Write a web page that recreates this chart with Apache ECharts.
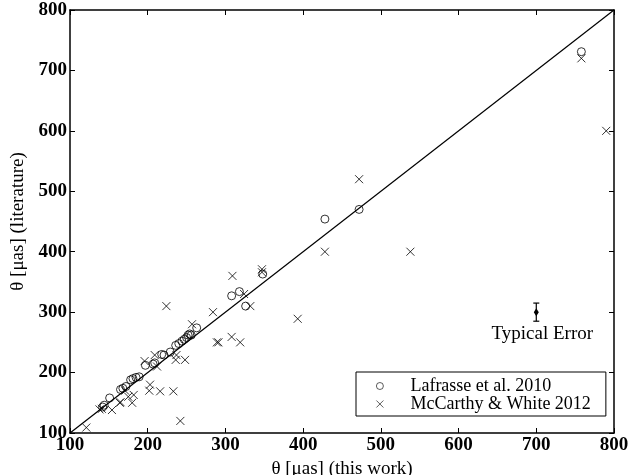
<!DOCTYPE html>
<html>
<head>
<meta charset="utf-8">
<script src="https://cdn.jsdelivr.net/npm/echarts@6/dist/echarts.min.js"></script>
<style>
  html, body { margin: 0; padding: 0; background: #fff; }
  #chart { width: 631px; height: 475px; }
</style>
</head>
<body>
<div id="chart"></div>
<script>
// Lafrasse et al. 2010 (x: this work, y: literature)
const lafrasseX = [142, 144, 151, 165, 168, 172, 178, 181, 185, 189, 197, 207, 209, 218, 221, 229, 236, 240, 244, 247, 250, 252, 254, 256, 263, 308, 318, 326, 348, 428, 472, 758]
const lafrasseY = [143, 146, 158, 172, 174, 177, 188, 190, 192, 193, 212, 214, 216, 230, 229, 234, 245, 248, 252, 255, 258, 262, 264, 262, 274, 327, 334, 310, 363, 454, 470, 731]

// McCarthy & White 2012
const mccarthyX = [121, 138, 141, 154, 164, 165, 171, 175, 180, 182, 196, 202, 203, 209, 212, 216, 224, 233, 236, 237, 242, 248, 257, 284, 289, 291, 309, 308, 319, 324, 332, 347, 347, 393, 428, 472, 538, 758, 790]
const mccarthyY = [109, 139, 140, 138, 150, 151, 170, 160, 150, 163, 219, 170, 180, 229, 210, 169, 310, 169, 221, 229, 120, 221, 280, 300, 250, 250, 360, 259, 250, 330, 310, 371, 366, 289, 400, 520, 400, 720, 600]

// 1:1 line and the typical error marker
const diagonal = [100, 800]
const errX = [700]
const errY = [300]
const errSize = [15]

const serif = 'Liberation Serif'

const chart = echarts.init(document.getElementById('chart'))

const zip = (xs, ys) => xs.map((x, i) => [x, ys[i]])

const axisCommon = {
  type: 'value',
  min: 100,
  max: 800,
  interval: 100,
  axisLine: { show: true, onZero: false, lineStyle: { color: '#000', width: 1.5 } },
  axisTick: { show: true, inside: true, length: 5, lineStyle: { color: '#000', width: 1 } },
  splitLine: { show: false }
}

const option = {
  animation: false,
  grid: { left: 70, right: 17, top: 10, bottom: 42, outerBoundsMode: 'none' },
  xAxis: [
    {
      ...axisCommon,
      position: 'bottom',
      axisLabel: { color: '#000', fontFamily: serif, fontWeight: 'bold', fontSize: 19, margin: 3 },
      name: 'θ [μas] (this work)',
      nameLocation: 'middle',
      nameGap: 20,
      nameTextStyle: { color: '#000', fontFamily: serif, fontSize: 19 }
    },
    {
      ...axisCommon,
      position: 'top',
      axisLabel: { show: false }
    }
  ],
  yAxis: [
    {
      ...axisCommon,
      position: 'left',
      axisLabel: { color: '#000', fontFamily: serif, fontWeight: 'bold', fontSize: 19, margin: 3 },
      name: 'θ [μas] (literature)',
      nameLocation: 'middle',
      nameGap: 40,
      nameTextStyle: { color: '#000', fontFamily: serif, fontSize: 19 }
    },
    {
      ...axisCommon,
      position: 'right',
      axisLabel: { show: false }
    }
  ],
  legend: {
    orient: 'vertical',
    left: 356,
    top: 372,
    data: ['Lafrasse et al. 2010', 'McCarthy & White 2012'],
    backgroundColor: '#fff',
    borderColor: '#000',
    borderWidth: 1,
    borderRadius: 0,
    padding: [5, 15, 3, 20],
    itemWidth: 7,
    itemHeight: 7,
    itemGap: 0,
    itemStyle: { borderWidth: 0.8 },
    textStyle: { color: '#000', fontFamily: serif, fontSize: 18, lineHeight: 16, padding: [0, 0, 0, 22] }
  },
  series: [
    {
      type: 'line',
      data: zip(diagonal, diagonal),
      symbol: 'none',
      silent: true,
      lineStyle: { color: '#000', width: 1.2 },
      z: 1
    },
    {
      name: 'Lafrasse et al. 2010',
      type: 'scatter',
      data: zip(lafrasseX, lafrasseY),
      symbol: 'circle',
      symbolSize: 8,
      itemStyle: { color: 'rgba(255,255,255,0)', borderColor: '#000', borderWidth: 1 }
    },
    {
      name: 'McCarthy & White 2012',
      type: 'scatter',
      data: zip(mccarthyX, mccarthyY),
      symbol: 'path://M0,0L10,10M10,0L0,10',
      symbolSize: 8,
      itemStyle: { color: 'rgba(255,255,255,0)', borderColor: '#000', borderWidth: 1 }
    },
    {
      type: 'custom',
      data: errX.map((x, i) => [x, errY[i], errSize[i]]),
      silent: true,
      renderItem: (params, api) => {
        const x = api.value(0)
        const y = api.value(1)
        const e = api.value(2)
        const top = api.coord([x, y + e])
        const bot = api.coord([x, y - e])
        const c = api.coord([x, y])
        const st = { stroke: '#000', lineWidth: 1.2 }
        return {
          type: 'group',
          children: [
            { type: 'line', shape: { x1: top[0], y1: top[1], x2: bot[0], y2: bot[1] }, style: st },
            { type: 'line', shape: { x1: top[0] - 3, y1: top[1], x2: top[0] + 3, y2: top[1] }, style: st },
            { type: 'line', shape: { x1: bot[0] - 3, y1: bot[1], x2: bot[0] + 3, y2: bot[1] }, style: st },
            {
              type: 'polygon',
              shape: { points: [[c[0], c[1] - 4], [c[0] + 2.5, c[1]], [c[0], c[1] + 4], [c[0] - 2.5, c[1]]] },
              style: { fill: '#000' }
            },
            {
              type: 'text',
              x: c[0] + 6,
              y: bot[1] + 3,
              style: { text: 'Typical Error', fill: '#000', font: '19px ' + serif, align: 'center', verticalAlign: 'top' }
            }
          ]
        }
      }
    }
  ]
}

chart.setOption(option)
</script>
</body>
</html>
